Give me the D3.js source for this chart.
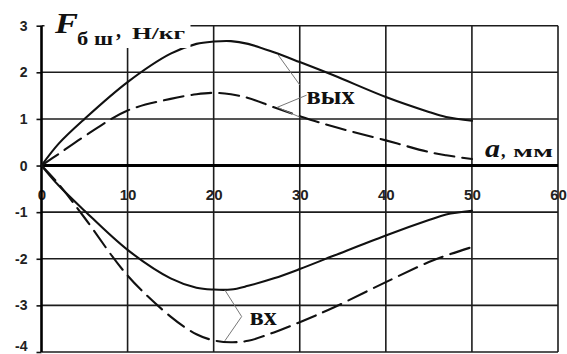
<!DOCTYPE html>
<html>
<head>
<meta charset="utf-8">
<script src="https://cdn.jsdelivr.net/npm/d3@7"></script>
<style>
  body { margin: 0; background: #fff; }
  svg { display: block; }
</style>
</head>
<body>
<svg id="chart" width="567" height="354"></svg>
<script>
// Distance a, mm
const mm = [0, 2, 5, 10, 15, 18, 20, 22, 24, 27, 30, 34, 40, 45, 47, 50];
// Force F_бш, Н/кг — outlet (вых) and inlet (вх), solid and dashed variants
const outSolid  = [0, 0.47, 1.00, 1.79, 2.40, 2.61, 2.66, 2.67, 2.61, 2.43, 2.22, 1.93, 1.47, 1.15, 1.04, 0.96];
const outDashed = [0, 0.25, 0.63, 1.18, 1.43, 1.53, 1.56, 1.53, 1.45, 1.25, 1.06, 0.83, 0.54, 0.29, 0.22, 0.14];
const inSolid   = [0, -0.43, -0.97, -1.81, -2.42, -2.62, -2.66, -2.66, -2.58, -2.42, -2.22, -1.93, -1.50, -1.17, -1.05, -0.97];
const inDashed  = [0, -0.40, -1.12, -2.36, -3.24, -3.62, -3.75, -3.79, -3.76, -3.58, -3.36, -3.04, -2.50, -2.07, -1.93, -1.75];

const xTicks = [0, 10, 20, 30, 40, 50, 60];
const yTicks = [-4, -3, -2, -1, 0, 1, 2, 3];

// Leader lines for the curve labels, in data units [a, F]
const outLeaderA = [[27.5, 2.37], [30.0, 1.73]];
const outLeaderB = [[30.8, 1.51], [27.4, 1.25], [30.0, 1.04]];
const inLeader   = [[21.3, -2.67], [23.25, -3.24], [21.3, -3.76]];
const outLabel = { text: "вых", a: 30.8, f: 1.32 };
const inLabel  = { text: "вх",  a: 24.2, f: -3.42 };

const svg = d3.select("#chart");
const x = d3.scaleLinear().domain([0, 60]).range([41.5, 558]);
const y = d3.scaleLinear().domain([-4, 3]).range([352, 25.7]);

const serif = "'Liberation Serif', 'Times New Roman', serif";
const sans = "'Liberation Sans', Arial, sans-serif";

// Grid
const grid = svg.append("g").attr("stroke", "#1c1c1c").attr("stroke-width", 1.6);
grid.selectAll("line.v").data(xTicks.filter(d => d > 0)).join("line")
  .attr("x1", d => x(d)).attr("x2", d => x(d))
  .attr("y1", y(3)).attr("y2", y(-4));
grid.selectAll("line.h").data(yTicks.filter(d => d !== 0)).join("line")
  .attr("x1", x(0)).attr("x2", x(60))
  .attr("y1", d => y(d)).attr("y2", d => y(d));

// Y axis ticks and labels
const yAxis = svg.append("g")
  .attr("transform", `translate(${x(0)},0)`)
  .call(d3.axisLeft(y).tickValues(yTicks).tickSize(5).tickPadding(9).tickFormat(d => String(d)));
yAxis.select(".domain").remove();
yAxis.selectAll(".tick line").attr("stroke", "#111").attr("stroke-width", 1.6);
yAxis.selectAll(".tick text")
  .attr("font-family", sans).attr("font-weight", "bold").attr("font-size", 14)
  .attr("fill", "#222")
  // the lowest label sits just above the bottom edge so it stays whole
  .attr("y", d => d === -4 ? -6 : 0);

// X axis labels under the zero line
const xAxis = svg.append("g")
  .attr("transform", `translate(0,${y(0)})`)
  .call(d3.axisBottom(x).tickValues(xTicks).tickSize(0).tickFormat(d => String(d)));
xAxis.select(".domain").remove();
xAxis.selectAll(".tick text")
  .attr("y", 29).attr("dy", "0.35em")
  .attr("font-family", sans).attr("font-weight", "bold").attr("font-size", 15)
  .attr("fill", "#222");

// Main axes
svg.append("line").attr("x1", x(0)).attr("x2", x(0)).attr("y1", y(3)).attr("y2", y(-4))
  .attr("stroke", "#000").attr("stroke-width", 2.6);
svg.append("line").attr("x1", x(0)).attr("x2", x(60)).attr("y1", y(0)).attr("y2", y(0))
  .attr("stroke", "#000").attr("stroke-width", 3);

// Curves
const line = d3.line()
  .x((d, i) => x(mm[i]))
  .y(d => y(d))
  .curve(d3.curveCatmullRom.alpha(0.5));

const series = [
  { values: outSolid, dash: null },
  { values: outDashed, dash: "20,8" },
  { values: inSolid, dash: null },
  { values: inDashed, dash: "20,8" }
];
svg.append("g").selectAll("path").data(series).join("path")
  .attr("d", d => line(d.values))
  .attr("fill", "none")
  .attr("stroke", "#111")
  .attr("stroke-width", 2.1)
  .attr("stroke-linecap", "round")
  .attr("stroke-dasharray", d => d.dash);

// Leader lines
const leader = d3.line().x(d => x(d[0])).y(d => y(d[1]));
svg.append("g").selectAll("path").data([outLeaderA, outLeaderB, inLeader]).join("path")
  .attr("d", leader)
  .attr("fill", "none")
  .attr("stroke", "#777")
  .attr("stroke-width", 1);

// Curve labels
svg.append("text").attr("x", x(outLabel.a)).attr("y", y(outLabel.f))
  .attr("font-family", serif).attr("font-weight", "bold").attr("font-size", 26)
  .attr("textLength", 48).attr("lengthAdjust", "spacingAndGlyphs")
  .attr("fill", "#111").text(outLabel.text);
svg.append("text").attr("x", x(inLabel.a)).attr("y", y(inLabel.f))
  .attr("font-family", serif).attr("font-weight", "bold").attr("font-size", 26)
  .attr("textLength", 27).attr("lengthAdjust", "spacingAndGlyphs")
  .attr("fill", "#111").text(inLabel.text);

// Y axis title on a white backing
svg.append("rect").attr("x", x(0) + 3).attr("y", 0).attr("width", 146).attr("height", 48).attr("fill", "#fff");
const title = svg.append("g").attr("fill", "#111").attr("font-family", serif).attr("font-weight", "bold");
title.append("text").attr("x", 55).attr("y", 33).attr("font-size", 30).attr("font-style", "italic")
  .attr("textLength", 23).attr("lengthAdjust", "spacingAndGlyphs").text("F");
title.append("text").attr("x", 77).attr("y", 45).attr("font-size", 18)
  .attr("textLength", 36).attr("lengthAdjust", "spacingAndGlyphs").text("б ш");
title.append("text").attr("x", 116).attr("y", 37).attr("font-size", 20).text(",");
title.append("text").attr("x", 132).attr("y", 39).attr("font-size", 17)
  .attr("textLength", 53).attr("lengthAdjust", "spacingAndGlyphs").text("Н/кг");

// X axis title
const xTitle = svg.append("g").attr("fill", "#111").attr("font-family", serif).attr("font-weight", "bold");
xTitle.append("text").attr("x", 485).attr("y", 157).attr("font-size", 25).attr("font-style", "italic")
  .attr("textLength", 15).attr("lengthAdjust", "spacingAndGlyphs").text("a");
xTitle.append("text").attr("x", 501).attr("y", 157).attr("font-size", 18).text(",");
xTitle.append("text").attr("x", 513).attr("y", 157).attr("font-size", 16)
  .attr("textLength", 40).attr("lengthAdjust", "spacingAndGlyphs").text("мм");
</script>
</body>
</html>
